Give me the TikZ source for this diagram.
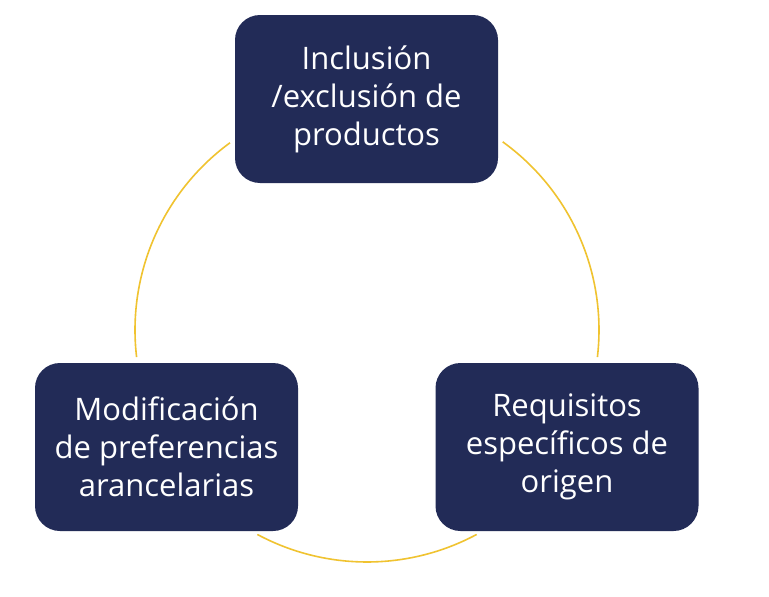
\documentclass[tikz,border=0pt]{standalone}
\usepackage{fontspec}
\setmainfont{Open Sans}
\definecolor{navy}{HTML}{222B57}
\definecolor{gold}{HTML}{F0C330}
\begin{document}
\begin{tikzpicture}[x=1pt,y=-1pt,
  box/.style={fill=navy, rounded corners=25pt, minimum width=263pt, minimum height=168pt,
    text=white, align=center, inner sep=0pt, font=\fontsize{31}{38}\selectfont},
  ring/.style={draw=gold, line width=1.6pt}]
\useasboundingbox[fill=white] (0,0) rectangle (769,597);
\coordinate (c) at (367,330);
\draw[ring] ([shift={(-126.2:232)}]c) arc[start angle=-126.2, end angle=-186.7, radius=232];
\draw[ring] ([shift={(-54.2:232)}]c) arc[start angle=-54.2, end angle=6.7, radius=232];
\draw[ring] ([shift={(61.8:232)}]c) arc[start angle=61.8, end angle=118.2, radius=232];
\node[box] (top) at (366.5,99) {Inclusión\\/exclusión de\\productos};
\node[box] (left) at (166.5,447) {Modificación\\de preferencias\\arancelarias};
\node[box] (right) at (567,447) {Requisitos\\específicos de\\origen};
\end{tikzpicture}
\end{document}
